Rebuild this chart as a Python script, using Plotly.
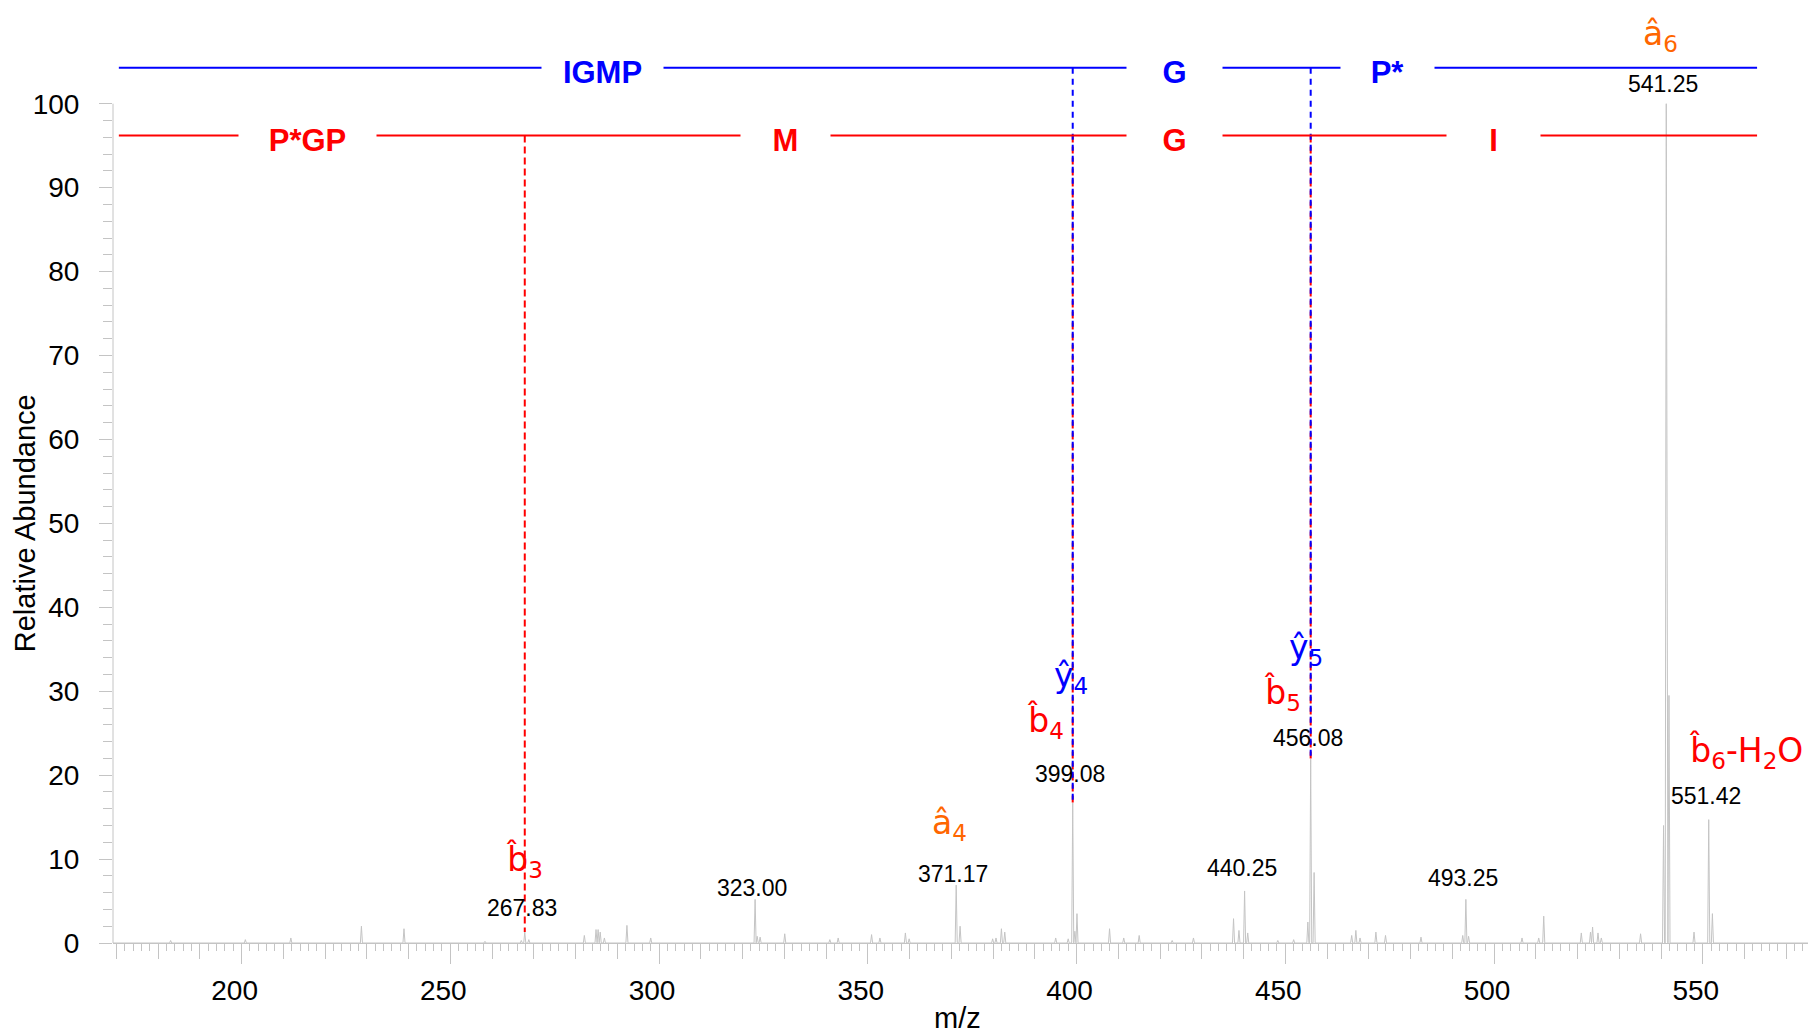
import plotly.graph_objects as go

# ---- spectrum data (m/z, relative abundance) ----
peak_mz = [183.0, 200.9, 211.8, 228.7, 238.9, 258.3, 267.0, 268.8, 282.1, 284.9,
           285.4, 285.9, 286.9, 292.3, 298.0, 323.5, 324.2, 330.1, 340.9, 342.9,
           350.9, 352.9, 359.0, 359.9, 372.1, 379.9, 380.7, 382.0, 382.8, 395.0,
           398.0, 399.6, 400.1, 407.9, 411.3, 415.0, 422.9, 428.0, 437.6, 438.9,
           441.0, 448.2, 452.0, 455.4, 456.9, 465.9, 466.9, 467.9, 471.7, 474.0,
           482.5, 492.5, 493.9, 506.7, 510.7, 511.9, 520.9, 523.1, 523.6, 524.9,
           525.7, 535.1, 540.6, 541.9, 547.9, 552.3]
peak_int = [0.3, 0.4, 0.6, 2.0, 1.7, 0.2, 0.3, 0.4, 0.9, 1.6,
            1.6, 1.3, 0.6, 2.1, 0.6, 0.8, 0.7, 1.1, 0.4, 0.6,
            1.0, 0.6, 1.2, 0.5, 2.0, 0.5, 0.6, 1.7, 1.3, 0.6,
            0.5, 1.4, 3.5, 1.7, 0.6, 0.9, 0.3, 0.6, 2.9, 1.5,
            1.2, 0.3, 0.4, 2.5, 8.4, 0.9, 1.5, 0.6, 1.3, 0.9,
            0.7, 0.9, 0.8, 0.6, 0.6, 3.2, 1.2, 1.3, 1.9, 1.2,
            0.6, 1.1, 14.0, 29.5, 1.3, 3.5]

# labelled peaks
label_mz = [267.83, 323.00, 371.17, 399.08, 440.25, 456.08, 493.25, 541.25, 551.42]
label_int = [1.3, 5.2, 6.9, 16.7, 6.2, 21.9, 5.2, 100.0, 14.7]

# fragment ion assignments
ion_text = ["b\u0302<sub>3</sub>", "a\u0302<sub>4</sub>", "b\u0302<sub>4</sub>",
            "y\u0302<sub>4</sub>", "b\u0302<sub>5</sub>", "y\u0302<sub>5</sub>",
            "a\u0302<sub>6</sub>", "b\u0302<sub>6</sub>-H<sub>2</sub>O"]
ion_mz = [267.83, 371.17, 399.08, 399.08, 456.08, 456.08, 541.25, 551.42]
ion_type = ["b", "a", "b", "y", "b", "y", "a", "b"]

# sequence ladders
b_cleavages = [267.83, 399.08, 456.08]
y_cleavages = [399.08, 456.08]
b_residues = ["P*GP", "M", "G", "I"]
y_residues = ["IGMP", "G", "P*"]

# ---- styling ----
RED, BLUE, ORANGE = "#ff0000", "#0000ff", "#ff6600"
GREY = "#c4c4c4"
ion_colors = {"a": ORANGE, "b": RED, "y": BLUE}
FONT = "Liberation Sans, Arial, sans-serif"
ION_FONT = "DejaVu Sans, sans-serif"

X_RANGE = [169.2, 575.2]
Y_RANGE = [0, 112]
LADDER_X = [170.6, 563.0]
B_LADDER_Y, Y_LADDER_Y = 96.2, 104.3
b_res_x = [215.8, 330.3, 423.5, 499.8]
b_res_w = [137, 89, 95, 93]
y_res_x = [286.4, 423.5, 474.4]
y_res_w = [121, 95, 93]
label_dy = [24, 11, 11, 29, 23, 21, 21, 20, 24]
ion_dx = [0, -7, -27, -2, -28, -5, -6, 37]
ion_dy = [71, 61, 81, 125, 65, 110, 68, 68]

height_of = dict(zip(label_mz, label_int))

# build a stick-profile line from the peak list
all_peaks = sorted(zip(peak_mz + label_mz, peak_int + label_int))
half_w = 0.25
px, py = [X_RANGE[0]], [0]
for mz, h in all_peaks:
    px += [mz - half_w, mz, mz + half_w]
    py += [0, h, 0]
px.append(X_RANGE[1])
py.append(0)

fig = go.Figure()
fig.add_trace(go.Scatter(x=px, y=py, mode="lines",
                         line=dict(color=GREY, width=1), hoverinfo="skip",
                         showlegend=False))

# dashed connectors from the ladders down to the assigned peaks
def connectors(cleavages, top):
    xs, ys = [], []
    for mz in cleavages:
        xs += [mz, mz, None]
        ys += [top, height_of[mz], None]
    return xs, ys

bx, by = connectors(b_cleavages, B_LADDER_Y)
fig.add_trace(go.Scatter(x=bx, y=by, mode="lines",
                         line=dict(color=RED, width=2, dash="7px,4px"),
                         hoverinfo="skip", showlegend=False))
yx, yy = connectors(y_cleavages, Y_LADDER_Y)
fig.add_trace(go.Scatter(x=yx, y=yy, mode="lines",
                         line=dict(color=BLUE, width=2, dash="6px,5px"),
                         hoverinfo="skip", showlegend=False))

# helper trace for the 10-unit tick axis
fig.add_trace(go.Scatter(x=[X_RANGE[0]], y=[0], xaxis="x2", mode="markers",
                         marker=dict(opacity=0), hoverinfo="skip",
                         showlegend=False))

shapes = []
# ladder lines
for ly, col in [(B_LADDER_Y, RED), (Y_LADDER_Y, BLUE)]:
    shapes.append(dict(type="line", xref="x", yref="y", x0=LADDER_X[0],
                       x1=LADDER_X[1], y0=ly, y1=ly,
                       line=dict(color=col, width=2)))
# y-axis spine from 0 to 100
shapes.append(dict(type="line", xref="paper", yref="y", x0=0, x1=0, y0=0, y1=100,
                   line=dict(color=GREY, width=1)))

annotations = []
# residue letters on the ladders
for txt, x, w in zip(b_residues, b_res_x, b_res_w):
    annotations.append(dict(x=x, y=B_LADDER_Y, xref="x", yref="y", text=txt,
                            showarrow=False, width=w, height=40, bgcolor="white",
                            borderpad=0, yshift=-4,
                            font=dict(family=FONT, size=31, color=RED,
                                      weight="bold")))
for txt, x, w in zip(y_residues, y_res_x, y_res_w):
    annotations.append(dict(x=x, y=Y_LADDER_Y, xref="x", yref="y", text=txt,
                            showarrow=False, width=w, height=40, bgcolor="white",
                            borderpad=0, yshift=-4,
                            font=dict(family=FONT, size=31, color=BLUE,
                                      weight="bold")))

# m/z labels
for mz, h, dy in zip(label_mz, label_int, label_dy):
    annotations.append(dict(x=mz, y=h, xref="x", yref="y", text=f"{mz:.2f}",
                            showarrow=False, yanchor="middle", xshift=-3,
                            yshift=dy,
                            font=dict(family=FONT, size=23, color="black")))

# ion labels
for txt, mz, t, dx, dy in zip(ion_text, ion_mz, ion_type, ion_dx, ion_dy):
    annotations.append(dict(x=mz, y=height_of[mz], xref="x", yref="y", text=txt,
                            showarrow=False, yanchor="middle", xshift=dx,
                            yshift=dy,
                            font=dict(family=ION_FONT, size=33,
                                      color=ion_colors[t])))

# axis titles
annotations.append(dict(x=-0.052, y=50, xref="paper", yref="y",
                        text="Relative Abundance", textangle=-90,
                        showarrow=False, xanchor="center", yanchor="middle",
                        font=dict(family=FONT, size=29, color="black")))
annotations.append(dict(x=0.5, y=-0.084, xref="paper", yref="paper",
                        text="m/z", showarrow=False, xanchor="center",
                        yanchor="middle", xshift=-3, yshift=4,
                        font=dict(family=FONT, size=29, color="black")))

fig.update_layout(
    width=1808, height=1034,
    margin=dict(l=113, r=0, t=3, b=91),
    paper_bgcolor="white", plot_bgcolor="white",
    showlegend=False,
    shapes=shapes, annotations=annotations,
    xaxis=dict(range=X_RANGE, tickmode="array",
               tickvals=[200, 250, 300, 350, 400, 450, 500, 550],
               ticks="outside", ticklen=20, tickwidth=1, tickcolor=GREY,
               ticklabelshift=-7, ticklabelstandoff=2,
               showline=True, linecolor=GREY, linewidth=1,
               showgrid=False, zeroline=False,
               tickfont=dict(family=FONT, size=28, color="black"),
               minor=dict(tick0=0, dtick=2, ticks="outside", ticklen=7,
                          tickwidth=1, tickcolor=GREY, showgrid=False)),
    xaxis2=dict(range=X_RANGE, overlaying="x", matches="x", anchor="y",
                side="bottom", tickmode="array",
                tickvals=list(range(170, 580, 10)), ticks="outside",
                ticklen=15, tickwidth=1, tickcolor=GREY,
                showticklabels=False, showline=False, showgrid=False,
                zeroline=False),
    yaxis=dict(range=Y_RANGE, tickmode="array",
               tickvals=list(range(0, 101, 10)),
               ticks="outside", ticklen=13, tickwidth=1, tickcolor=GREY,
               ticklabelstandoff=14,
               showline=False, showgrid=False, zeroline=False,
               tickfont=dict(family=FONT, size=28, color="black"),
               minor=dict(tickmode="array", tickvals=list(range(2, 100, 2)),
                          ticks="outside", ticklen=9, tickwidth=1,
                          tickcolor=GREY, showgrid=False)),
)

fig.write_html("out.html")
